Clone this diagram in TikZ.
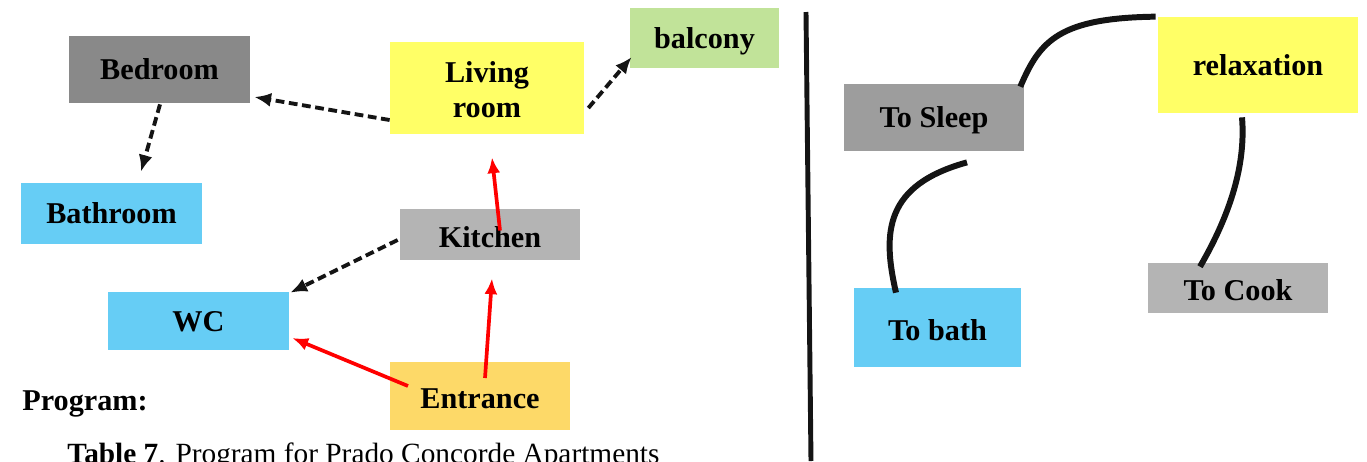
\documentclass[tikz,border=0pt]{standalone}
\usepackage{fontspec}
\setmainfont{Liberation Serif}
\usetikzlibrary{arrows.meta}
\definecolor{bedgray}{RGB}{137,137,137}
\definecolor{sleepgray}{RGB}{157,157,157}
\definecolor{lightgray}{RGB}{180,180,180}
\definecolor{roomyellow}{RGB}{255,255,102}
\definecolor{balcgreen}{RGB}{193,227,153}
\definecolor{wetblue}{RGB}{102,205,245}
\definecolor{entryorange}{RGB}{253,217,104}
\definecolor{inkblack}{RGB}{20,20,20}

\begin{document}
\begin{tikzpicture}[x=0.02cm, y=-0.02cm,
    every node/.style={font=\fontsize{17.2}{20}\selectfont},
    room/.style={inner sep=0pt, font=\fontsize{17.2}{20}\selectfont\bfseries,
        text height=11.4pt, text depth=0pt},
    lowtext/.style={text height=14.4pt},
    roomtwo/.style={inner sep=0pt, font=\fontsize{17.2}{20}\selectfont\bfseries,
        align=center, text height=34pt, text depth=0pt},
    size/.style 2 args={minimum width=#1*0.02cm, minimum height=#2*0.02cm},
    dasharrow/.style={line width=2.2pt, inkblack, dash pattern=on 5pt off 2.6pt,
        -{Latex[length=9.5pt,width=8pt]}},
    redarrow/.style={line width=2.1pt, red, -{Latex[length=9pt,width=7.4pt]}},
    link/.style={line width=3.4pt, inkblack}]
        \useasboundingbox (0,0) rectangle (1367,461);
        \clip (0,0) rectangle (1367,461);
        % left: rooms
        \node[room, size={181}{67}, fill=bedgray] (bedroom) at (159.5,69.5) {Bedroom};
        \node[roomtwo, size={194}{92}, fill=roomyellow] (living) at (487,88) {Living\\room};
        \node[room, size={149}{60}, fill=balcgreen] (balcony) at (704.5,38) {balcony};
        \node[room, size={181}{61}, fill=wetblue] (bathroom) at (111.5,213.5) {Bathroom};
        \node[room, lowtext, size={180}{51}, fill=lightgray] (kitchen) at (490,234.5) {Kitchen};
        \node[room, size={181}{58}, fill=wetblue] (wc) at (198.5,321) {WC};
        \node[room, lowtext, size={180}{68}, fill=entryorange] (entrance) at (480,396) {Entrance};
        \node[anchor=base west, inner sep=0pt, font=\fontsize{17.2}{20}\selectfont\bfseries]
            (program) at (22,410) {Program:};
        \node[anchor=base west, inner sep=0pt, font=\fontsize{16.7}{20}\selectfont]
            (caption) at (67,463) {\textbf{Table 7}. Program for Prado Concorde Apartments};
        % left: links
        \draw[dasharrow] ([shift={(0,32)}]living.west) -- ([shift={(4,27.5)}]bedroom.east);
        \draw[dasharrow] ([shift={(0.5,1)}]bedroom.south) -- ([shift={(29.5,-11)}]bathroom.north);
        \draw[dasharrow] ([shift={(4,20)}]living.east) -- ([shift={(2,19)}]balcony.west);
        \draw[dasharrow] ([shift={(-2,5.5)}]kitchen.west) -- ([shift={(1,1)}]wc.north east);
        \draw[redarrow] ([shift={(10,-4)}]kitchen.center) -- ([shift={(5,23)}]living.south);
        \draw[redarrow] ([shift={(5,-18)}]entrance.center) -- ([shift={(2,18)}]kitchen.south);
        \draw[redarrow] ([shift={(-72,-10)}]entrance.center) -- ([shift={(3,17)}]wc.east);
        % divider
        \draw[line width=2.8pt, inkblack] (806,12) -- (811,461);
        % right: activities
        \node[room, size={180}{67}, fill=sleepgray] (tosleep) at (934,117.5) {To Sleep};
        \node[room, size={200}{96}, fill=roomyellow] (relax) at (1258,65) {relaxation};
        \node[room, lowtext, size={167}{79}, fill=wetblue] (tobath) at (937.5,327.5) {To bath};
        \node[room, lowtext, size={180}{50}, fill=lightgray] (tocook) at (1238,288) {To Cook};
        \draw[link] ([shift={(-4,3)}]tosleep.north east) .. controls (1040,40) and (1060,18)
            .. ([shift={(-2,0)}]relax.north west);
        \draw[link] ([shift={(33,11)}]tosleep.south) .. controls (885,185) and (882,232)
            .. ([shift={(-41.5,5)}]tobath.north);
        \draw[link] ([shift={(-16,4)}]relax.south) .. controls (1246,165) and (1230,215)
            .. ([shift={(-38,4)}]tocook.north);
    \end{tikzpicture}
\end{document}
